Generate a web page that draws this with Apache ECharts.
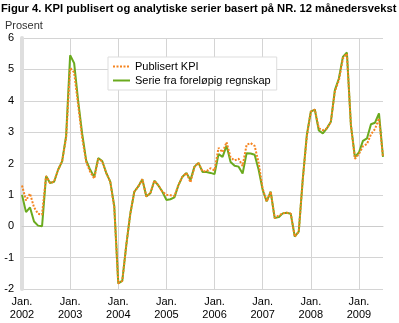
<!DOCTYPE html>
<html>
<head>
<meta charset="utf-8">
<script src="https://cdn.jsdelivr.net/npm/echarts@6/dist/echarts.min.js"></script>
<style>
html,body{margin:0;padding:0;background:#fff;}
#c{width:399px;height:323px;}
</style>
</head>
<body>
<div id="c"></div>
<script>
const years = ['2002','2003','2004','2005','2006','2007','2008','2009'];
const lastMonthCount = 7; // Jan-Jul 2009

const publisertKPI = [
  1.3, 0.82, 1.04, 0.6, 0.4, 0.37, 1.6, 1.38, 1.42, 1.8, 2.07, 2.82,
  5.05, 4.9, 3.87, 2.82, 2.05, 1.73, 1.52, 2.14, 2.07, 1.7, 1.42, 0.6,
  -1.82, -1.74, -0.6, 0.4, 1.1, 1.27, 1.5, 0.95, 1.05, 1.45, 1.3, 1.1,
  1.0, 0.99, 0.96, 1.31, 1.58, 1.7, 1.4, 1.9, 2.02, 1.75, 1.75, 1.85,
  1.78, 2.5, 2.36, 2.68, 2.19, 2.1, 2.15, 1.92, 2.6, 2.65, 2.56, 2.02,
  1.2, 0.79, 1.1, 0.26, 0.34, 0.41, 0.43, 0.4, -0.33, -0.17, 1.5, 2.85,
  3.65, 3.72, 3.12, 3.06, 3.12, 3.33, 4.3, 4.65, 5.35, 5.5, 3.22, 2.15,
  2.3, 2.55, 2.62, 2.93, 3.1, 3.44, 2.2
];
const serieRegnskap = [
  1.0, 0.45, 0.6, 0.15, 0.02, 0.0, 1.6, 1.38, 1.42, 1.8, 2.07, 2.88,
  5.45, 5.2, 4.0, 2.95, 2.1, 1.8, 1.57, 2.17, 2.08, 1.7, 1.42, 0.65,
  -1.82, -1.74, -0.6, 0.4, 1.1, 1.27, 1.5, 0.95, 1.05, 1.45, 1.3, 1.1,
  0.84, 0.86, 0.92, 1.31, 1.58, 1.7, 1.47, 1.9, 2.02, 1.73, 1.73, 1.7,
  1.66, 2.3, 2.21, 2.57, 2.05, 1.93, 1.9, 1.68, 2.33, 2.32, 2.28, 1.8,
  1.16, 0.79, 1.1, 0.26, 0.29, 0.41, 0.43, 0.4, -0.33, -0.17, 1.5, 2.9,
  3.65, 3.72, 3.05, 2.96, 3.12, 3.33, 4.34, 4.71, 5.4, 5.54, 3.22, 2.2,
  2.35, 2.72, 2.8, 3.25, 3.3, 3.6, 2.21
];

const categories = [];
years.forEach((y, i) => {
  const n = (i === years.length - 1) ? lastMonthCount : 12;
  for (let m = 1; m <= n; m++) categories.push(y + '-' + m);
});

const FONT = "'Liberation Sans', Arial, sans-serif";
const chart = echarts.init(document.getElementById('c'), null, {renderer: 'canvas'});
chart.setOption({
  animation: false,
  backgroundColor: '#fff',
  textStyle: {fontFamily: FONT},
  title: [
    {text: 'Figur 4. KPI publisert og analytiske serier basert på NR. 12 månedersvekst',
     left: 1, top: 3, padding: 0,
     textStyle: {fontSize: 11.2, fontWeight: 'bold', color: '#000', fontFamily: FONT}},
    {text: 'Prosent', left: 5, top: 20, padding: 0,
     textStyle: {fontSize: 11, fontWeight: 'normal', color: '#333', fontFamily: FONT}}
  ],
  legend: {
    orient: 'vertical',
    left: 108, top: 57,
    padding: [4, 6, 4, 4],
    itemGap: 3,
    itemWidth: 17, itemHeight: 10,
    itemStyle: {opacity: 0},
    backgroundColor: '#fff',
    borderColor: '#dddddd', borderWidth: 1,
    textStyle: {fontSize: 11, color: '#000', fontFamily: FONT},
    data: ['Publisert KPI', 'Serie fra foreløpig regnskap']
  },
  grid: {left: 22, right: 16, top: 38, bottom: 34, containLabel: false},
  xAxis: {
    type: 'category',
    data: categories,
    boundaryGap: false,
    axisLine: {show: true, lineStyle: {color: '#cccccc', width: 1}},
    axisTick: {show: false},
    axisLabel: {
      interval: (idx) => idx % 12 === 0,
      formatter: (v) => 'Jan.\n' + v.split('-')[0],
      fontSize: 11, color: '#000', lineHeight: 13, margin: 6, fontFamily: FONT
    },
    splitLine: {show: true, interval: (idx) => idx % 12 === 0, lineStyle: {color: '#d4d4d4', width: 1}}
  },
  yAxis: {
    type: 'value',
    min: -2, max: 6, interval: 1,
    axisLine: {show: true, lineStyle: {color: '#dedede', width: 4}},
    axisTick: {show: false},
    axisLabel: {fontSize: 11, color: '#000', margin: 8, fontFamily: FONT},
    splitLine: {show: true, lineStyle: {color: '#d4d4d4', width: 1}}
  },
  series: [
    {name: 'Serie fra foreløpig regnskap', type: 'line', data: serieRegnskap,
     symbol: 'none', color: '#6aaa1e', lineStyle: {color: '#6aaa1e', width: 2}},
    {name: 'Publisert KPI', type: 'line', data: publisertKPI,
     symbol: 'none', color: '#f5841f', lineStyle: {color: '#f5841f', width: 2, type: [2, 1.5]}}
  ]
});
</script>
</body>
</html>
